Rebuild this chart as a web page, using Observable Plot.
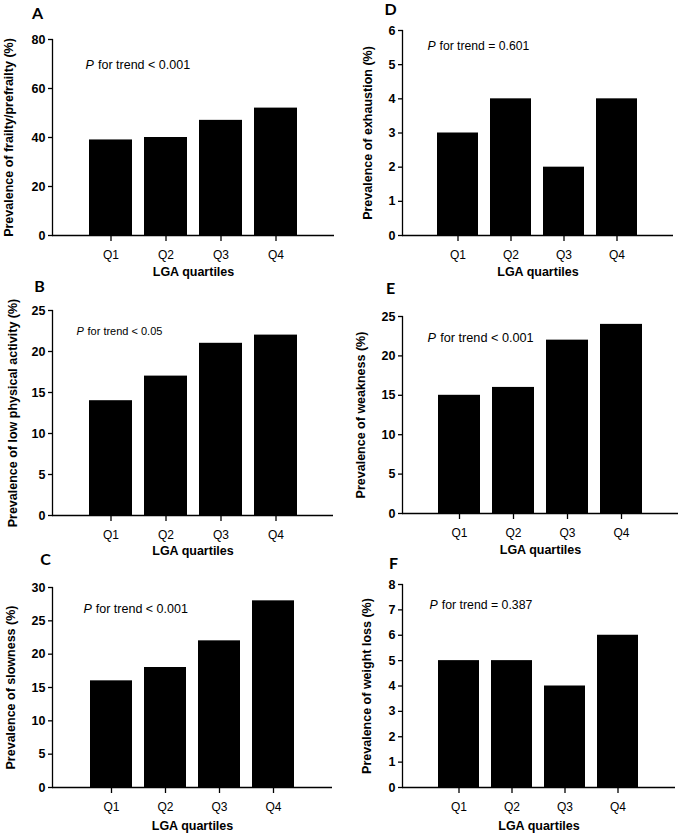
<!DOCTYPE html>
<html><head><meta charset="utf-8">
<script src="https://cdn.jsdelivr.net/npm/d3@7"></script>
<script src="https://cdn.jsdelivr.net/npm/@observablehq/plot@0.6"></script>
<style>
body{margin:0;background:#fff;}
#fig{position:relative;width:685px;height:835px;overflow:hidden;background:#fff;}
#fig svg{position:absolute;}
</style></head><body><div id="fig"></div>
<script>
// ---- data ----
const quartiles = ["Q1", "Q2", "Q3", "Q4"];
const frailty = [39, 40, 47, 52];
const lowActivity = [14, 17, 21, 22];
const slowness = [16, 18, 22, 28];
const exhaustion = [3, 4, 2, 4];
const weakness = [15, 16, 22, 24];
const weightLoss = [5, 5, 4, 6];

const ticksA = [0, 20, 40, 60, 80];
const ticksB = [0, 5, 10, 15, 20, 25];
const ticksC = [0, 5, 10, 15, 20, 25, 30];
const ticksD = [0, 1, 2, 3, 4, 5, 6];
const ticksE = [0, 5, 10, 15, 20, 25];
const ticksF = [0, 1, 2, 3, 4, 5, 6, 7, 8];

const letters = ["A", "B", "C", "D", "E", "F"];
const yLabels = [
  "Prevalence of frailty/prefrailty (%)",
  "Prevalence of low physical activity (%)",
  "Prevalence of slowness (%)",
  "Prevalence of exhaustion (%)",
  "Prevalence of weakness (%)",
  "Prevalence of weight loss (%)"
];
const pTexts = ["for trend < 0.001", "for trend < 0.05", "for trend < 0.001",
                "for trend = 0.601", "for trend < 0.001", "for trend = 0.387"];
const xLabel = "LGA quartiles";

const seriesList = [frailty, lowActivity, slowness, exhaustion, weakness, weightLoss];
const tickList = [ticksA, ticksB, ticksC, ticksD, ticksE, ticksF];

// ---- layout (page px) ----
const layout = [
  {left: 0,   top: 0,   width: 342, height: 280, ml: 52, mr: 8,  mt: 39, mb: 45, let: [-15, -26], p: [33, 25], pSize: 12.5, pGap: 12.5, yl: -44, xl: 36},
  {left: 0,   top: 272, width: 342, height: 290, ml: 52, mr: 9,  mt: 38, mb: 47, let: [-13, -24], p: [24, 21], pSize: 11,   pGap: 11, yl: -40, xl: 35},
  {left: 0,   top: 545, width: 342, height: 290, ml: 52, mr: 10, mt: 42, mb: 48, let: [-7, -28],  p: [31, 21], pSize: 12.5, pGap: 12.3, yl: -41.5, xl: 38},
  {left: 338, top: 0,   width: 347, height: 280, ml: 64, mr: 12, mt: 30, mb: 45, let: [-12, -21], p: [25, 16], pSize: 12.2, pGap: 12, yl: -35, xl: 36},
  {left: 338, top: 272, width: 347, height: 290, ml: 64, mr: 7,  mt: 44, mb: 49, let: [-12, -28], p: [25, 21], pSize: 12.7, pGap: 12.7, yl: -42, xl: 36},
  {left: 338, top: 545, width: 347, height: 290, ml: 64, mr: 10, mt: 39, mb: 48, let: [-9, -21],  p: [27, 21], pSize: 12.3, pGap: 12.3, yl: -36, xl: 38}
];

const fig = document.getElementById("fig");
const FONT = "'Liberation Sans', Arial, Helvetica, sans-serif";

seriesList.forEach((values, i) => {
  const L = layout[i];
  const ticks = tickList[i];
  const table = quartiles.map((q, j) => ({q, v: values[j]}));
  const chart = Plot.plot({
    width: L.width,
    height: L.height,
    marginLeft: L.ml, marginRight: L.mr, marginTop: L.mt, marginBottom: L.mb,
    style: {fontFamily: FONT, background: "transparent", overflow: "visible", color: "black"},
    x: {type: "band", domain: quartiles, paddingInner: 0.22, paddingOuter: 0.66},
    y: {domain: [0, ticks[ticks.length - 1]]},
    marks: [
      Plot.barY(table, {x: "q", y: "v", fill: "black"}),
      Plot.axisY({ticks: ticks, tickFormat: d => String(d), tickSize: 4, tickPadding: 3, fontSize: 12.5, fontWeight: "bold", label: null, strokeWidth: 1.3}),
      Plot.axisX({tickSize: 6, tickPadding: 9, fontSize: 12, label: null, strokeWidth: 1.3}),
      Plot.frame({anchor: "left", strokeWidth: 1.3}),
      Plot.ruleY([0], {strokeWidth: 1.3}),
      Plot.text([yLabels[i]], {text: d => d, frameAnchor: "left", rotate: -90, dx: L.yl, textAnchor: "middle", lineAnchor: "middle", fontSize: 12.5, fontWeight: "bold"}),
      Plot.text([xLabel], {text: d => d, frameAnchor: "bottom", dy: L.xl, textAnchor: "middle", lineAnchor: "middle", fontSize: 12.5, fontWeight: "bold"}),
      Plot.text([letters[i]], {text: d => d, frameAnchor: "top-left", dx: L.let[0], dy: L.let[1], textAnchor: "middle", lineAnchor: "middle", fontSize: 16, fontWeight: "bold", fontFamily: "Lato, 'Open Sans', sans-serif"}),
      Plot.text(["P"], {text: d => d, frameAnchor: "top-left", dx: L.p[0], dy: L.p[1], textAnchor: "start", lineAnchor: "middle", fontSize: L.pSize, fontStyle: "italic"}),
      Plot.text([pTexts[i]], {text: d => d, frameAnchor: "top-left", dx: L.p[0] + L.pGap, dy: L.p[1], textAnchor: "start", lineAnchor: "middle", fontSize: L.pSize})
    ]
  });
  chart.style.left = L.left + "px";
  chart.style.top = L.top + "px";
  fig.appendChild(chart);
});
</script>
</body></html>
